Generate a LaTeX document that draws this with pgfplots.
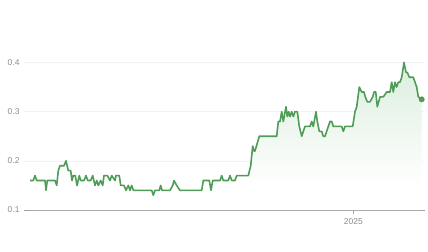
\documentclass[border=0pt]{standalone}
\usepackage{fontspec}
\setmainfont{Liberation Sans}
\usepackage{pgfplots}
\pgfplotsset{compat=1.18}
\definecolor{linegreen}{RGB}{78,156,88}
\definecolor{fillgreen}{RGB}{198,228,202}
\definecolor{labelgray}{RGB}{140,140,140}
\definecolor{gridgray}{RGB}{242,242,242}
\definecolor{axisgray}{RGB}{160,160,160}
\pgfdeclareverticalshading{areafade}{100bp}{color(0bp)=(white); color(33bp)=(white); color(100bp)=(fillgreen)}
\begin{document}
\begin{tikzpicture}
\path[use as bounding box] (0,0) rectangle (428bp,252bp);
\begin{axis}[
  at={(24bp,42bp)}, anchor=south west,
  scale only axis, width=401bp, height=147.5bp,
  xmin=24, xmax=425, ymin=0.1, ymax=0.4,
  clip=false,
  axis x line=bottom, axis y line=left,
  x axis line style={draw=axisgray, line width=0.8pt, -},
  y axis line style={draw=none},
  ytick={0.1,0.2,0.3,0.4},
  yticklabels={0.1,0.2,0.3,0.4},
  xtick={353.3}, xticklabels={2025},
  tick align=outside,
  major tick length=4bp,
  x tick style={draw=axisgray, line width=0.6pt},
  y tick style={draw=none},
  ymajorgrids, grid style={draw=gridgray, line width=0.6pt},
  ticklabel style={font=\fontsize{8.5}{10}\selectfont, text=labelgray},
  /pgf/number format/assume math mode=true,
  yticklabel style={xshift=3pt},
  xticklabel style={yshift=-1.5pt},
]
\addplot[draw=none, shading=areafade] coordinates {
(30.0,0.16)(33.3,0.16)(35.0,0.17)(36.7,0.16)(45.0,0.16)(46.0,0.14)(47.3,0.16)(55.0,0.16)(56.7,0.15)(58.3,0.18)
(60.0,0.19)(64.0,0.19)(66.0,0.20)(68.3,0.18)(70.7,0.18)(72.0,0.16)(73.3,0.17)(75.3,0.17)(77.0,0.15)(79.3,0.17)
(80.7,0.16)(84.0,0.16)(86.0,0.17)(87.7,0.16)(90.7,0.16)(92.7,0.17)(95.0,0.15)(96.7,0.16)(98.3,0.15)(100.7,0.16)
(102.7,0.15)(104.0,0.17)(107.3,0.17)(110.0,0.16)(111.7,0.17)(115.0,0.16)(116.0,0.17)(119.3,0.17)(120.7,0.15)(124.0,0.15)
(126.0,0.14)(128.3,0.15)(130.0,0.14)(131.7,0.15)(133.3,0.14)(151.7,0.14)(153.3,0.13)(155.0,0.14)(159.3,0.14)(160.7,0.15)
(162.0,0.14)(170.0,0.14)(172.7,0.15)(174.0,0.16)(176.7,0.15)(180.0,0.14)(201.7,0.14)(203.3,0.16)(209.3,0.16)(211.0,0.14)
(212.7,0.16)(220.0,0.16)(221.7,0.17)(223.3,0.16)(228.3,0.16)(230.0,0.17)(231.7,0.16)(235.0,0.16)(236.7,0.17)(248.3,0.17)
(250.7,0.19)(252.7,0.23)(254.0,0.22)(255.0,0.22)(259.3,0.25)(276.7,0.25)(278.3,0.28)(280.0,0.28)(281.7,0.30)(283.3,0.28)
(286.0,0.31)(287.3,0.29)(288.7,0.30)(290.0,0.29)(291.7,0.30)(293.3,0.29)(295.0,0.30)(297.3,0.30)(299.3,0.27)(301.7,0.25)
(303.3,0.26)(305.0,0.27)(310.0,0.27)(311.7,0.28)(313.3,0.27)(316.0,0.30)(317.3,0.28)(319.3,0.26)(321.7,0.26)(323.3,0.25)
(325.0,0.25)(326.7,0.26)(330.0,0.28)(331.7,0.28)(333.3,0.27)(341.7,0.27)(343.3,0.26)(345.0,0.27)(352.7,0.27)(355.0,0.30)
(356.7,0.31)(359.3,0.35)(361.7,0.34)(364.0,0.34)(365.3,0.33)(367.3,0.32)(370.0,0.32)(372.7,0.33)(374.0,0.34)(375.7,0.34)
(377.3,0.31)(380.0,0.33)(383.3,0.33)(386.7,0.34)(390.0,0.34)(391.7,0.36)(393.3,0.34)(395.0,0.36)(396.7,0.35)(398.3,0.36)
(400.0,0.36)(401.7,0.37)(404.0,0.40)(406.0,0.38)(407.3,0.38)(409.3,0.37)(413.3,0.37)(416.7,0.35)(418.3,0.33)(421.7,0.325)
} \closedcycle;
\addplot[draw=linegreen, line width=1.6pt, line join=round] coordinates {
(30.0,0.16)(33.3,0.16)(35.0,0.17)(36.7,0.16)(45.0,0.16)(46.0,0.14)(47.3,0.16)(55.0,0.16)(56.7,0.15)(58.3,0.18)
(60.0,0.19)(64.0,0.19)(66.0,0.20)(68.3,0.18)(70.7,0.18)(72.0,0.16)(73.3,0.17)(75.3,0.17)(77.0,0.15)(79.3,0.17)
(80.7,0.16)(84.0,0.16)(86.0,0.17)(87.7,0.16)(90.7,0.16)(92.7,0.17)(95.0,0.15)(96.7,0.16)(98.3,0.15)(100.7,0.16)
(102.7,0.15)(104.0,0.17)(107.3,0.17)(110.0,0.16)(111.7,0.17)(115.0,0.16)(116.0,0.17)(119.3,0.17)(120.7,0.15)(124.0,0.15)
(126.0,0.14)(128.3,0.15)(130.0,0.14)(131.7,0.15)(133.3,0.14)(151.7,0.14)(153.3,0.13)(155.0,0.14)(159.3,0.14)(160.7,0.15)
(162.0,0.14)(170.0,0.14)(172.7,0.15)(174.0,0.16)(176.7,0.15)(180.0,0.14)(201.7,0.14)(203.3,0.16)(209.3,0.16)(211.0,0.14)
(212.7,0.16)(220.0,0.16)(221.7,0.17)(223.3,0.16)(228.3,0.16)(230.0,0.17)(231.7,0.16)(235.0,0.16)(236.7,0.17)(248.3,0.17)
(250.7,0.19)(252.7,0.23)(254.0,0.22)(255.0,0.22)(259.3,0.25)(276.7,0.25)(278.3,0.28)(280.0,0.28)(281.7,0.30)(283.3,0.28)
(286.0,0.31)(287.3,0.29)(288.7,0.30)(290.0,0.29)(291.7,0.30)(293.3,0.29)(295.0,0.30)(297.3,0.30)(299.3,0.27)(301.7,0.25)
(303.3,0.26)(305.0,0.27)(310.0,0.27)(311.7,0.28)(313.3,0.27)(316.0,0.30)(317.3,0.28)(319.3,0.26)(321.7,0.26)(323.3,0.25)
(325.0,0.25)(326.7,0.26)(330.0,0.28)(331.7,0.28)(333.3,0.27)(341.7,0.27)(343.3,0.26)(345.0,0.27)(352.7,0.27)(355.0,0.30)
(356.7,0.31)(359.3,0.35)(361.7,0.34)(364.0,0.34)(365.3,0.33)(367.3,0.32)(370.0,0.32)(372.7,0.33)(374.0,0.34)(375.7,0.34)
(377.3,0.31)(380.0,0.33)(383.3,0.33)(386.7,0.34)(390.0,0.34)(391.7,0.36)(393.3,0.34)(395.0,0.36)(396.7,0.35)(398.3,0.36)
(400.0,0.36)(401.7,0.37)(404.0,0.40)(406.0,0.38)(407.3,0.38)(409.3,0.37)(413.3,0.37)(416.7,0.35)(418.3,0.33)(421.7,0.325)
};
\addplot[only marks, mark=*, mark size=2.7pt, mark options={fill=linegreen, draw=linegreen}] coordinates {(421.7,0.325)};
\end{axis}
\end{tikzpicture}
\end{document}
